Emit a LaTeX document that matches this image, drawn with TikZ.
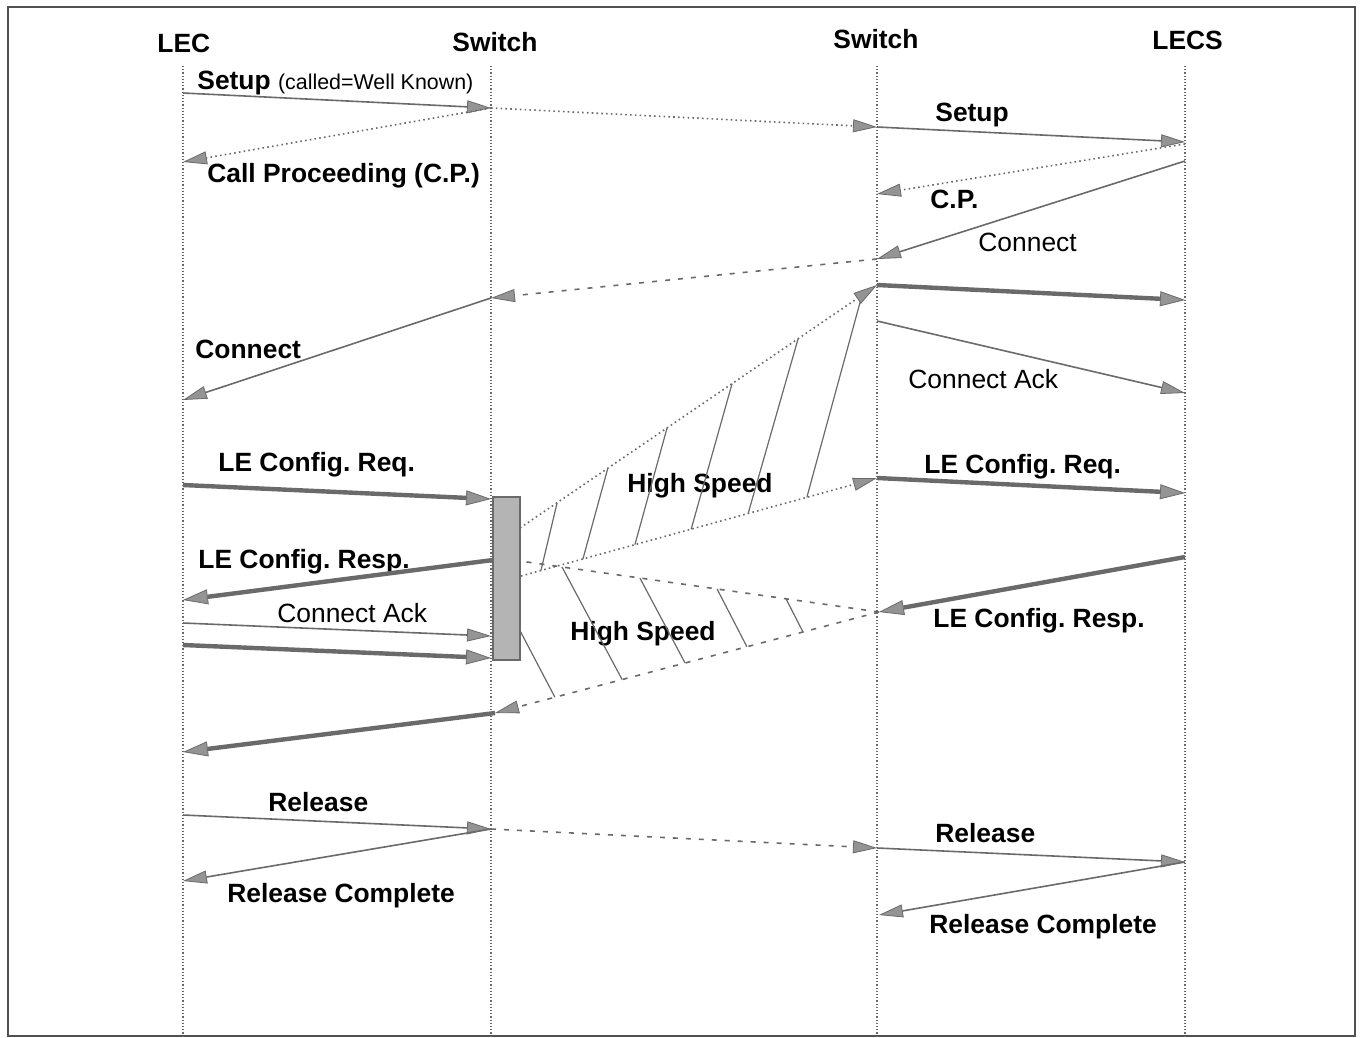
\documentclass[tikz,border=0pt]{standalone}
\usepackage{fontspec}
\setmainfont{Liberation Sans}
\usetikzlibrary{arrows.meta,calc}
\definecolor{WireGray}{HTML}{6A6A6A}
\definecolor{TipGray}{HTML}{949494}
\definecolor{BarGray}{HTML}{B4B4B4}
\definecolor{EdgeGray}{HTML}{505050}
\frenchspacing

\begin{document}
\begin{tikzpicture}[
  x=0.5pt,y=-0.5pt,
  every node/.style={inner sep=0pt,anchor=base west,
    font=\fontsize{13.2}{15}\selectfont\bfseries},
  lbl/.style={font=\fontsize{13.2}{15}\selectfont},
  life/.style={EdgeGray!85,densely dotted,line width=0.6pt},
  sig/.style={WireGray,line width=0.8pt,
    -{Triangle[length=12pt,width=6.5pt,line width=0.4pt,fill=TipGray]}},
  fat/.style={WireGray,line width=2.2pt,
    -{Triangle[length=12.5pt,width=7.5pt,line width=0.4pt,fill=TipGray]}},
  dots/.style={sig,dash pattern=on 0.8pt off 1.6pt},
  dashes/.style={sig,dash pattern=on 2.5pt off 4pt},
  hatch/.style={WireGray,line width=0.6pt},
  bar/.style={anchor=center,draw=EdgeGray!85,fill=BarGray,line width=1.2pt,
    minimum width=13.5pt,minimum height=81.5pt}
]
\useasboundingbox (0,0) rectangle (1361,1038);
\draw[EdgeGray,line width=1.2pt] (8,7) rectangle (1355,1036);

\node (lec) at (157,53) {LEC};
\node (swa) at (452,52) {Switch};
\node (swb) at (833,49) {Switch};
\node (lecs) at (1152,50) {LECS};

\foreach \n/\x in {lec/183,swa/491,swb/877,lecs/1185}{
  \coordinate (\n-t) at (\x,66);
  \coordinate (\n-b) at (\x,1036);
  \draw[life] (\n-t) -- (\n-b);
}

\coordinate (a1) at (183,93);   \coordinate (b1) at (491,108);
\coordinate (c2) at (877,127);  \coordinate (d3) at (1185,142);
\coordinate (d4) at (1185,144); \coordinate (c4) at (877,194);
\coordinate (a5) at (183,162);
\coordinate (d6) at (1185,161); \coordinate (c6) at (877,259);
\coordinate (b7) at (491,298);  \coordinate (a8) at (183,400);
\coordinate (c9) at (877,285);  \coordinate (d9) at (1185,300);
\coordinate (c10) at (877,321); \coordinate (d10) at (1185,393);
\coordinate (a11) at (183,485); \coordinate (b11) at (491,499);
\coordinate (hu1) at (520,528); \coordinate (hl1) at (521,576);
\coordinate (c12) at (877,478); \coordinate (d12) at (1185,493);
\coordinate (d13) at (1185,557); \coordinate (c13) at (879,612);
\coordinate (lt1) at (520,561); \coordinate (b14) at (495,713);
\coordinate (b15) at (493,560); \coordinate (a15) at (183,600);
\coordinate (a16) at (183,623); \coordinate (b16) at (491,636);
\coordinate (a17) at (183,645); \coordinate (b17) at (491,658);
\coordinate (a18) at (183,752);
\coordinate (a19) at (183,815); \coordinate (b19) at (491,829);
\coordinate (c19) at (877,848); \coordinate (d20) at (1185,862);
\coordinate (a21) at (183,881); \coordinate (c22) at (879,915);
\coordinate (hs0) at (505,602);

\node (setupA) at (197,90) {Setup {\mdseries\fontsize{10.7}{13}\selectfont(called=Well Known)}};
\node (cpA) at (207,183) {Call Proceeding (C.P.)};
\node (setupB) at (935,122) {Setup};
\node (cpB) at (930,208) {C.P.};
\node[lbl] (connB) at (978,251) {Connect};
\node (connA) at (195,358) {Connect};
\node[lbl] (ackB) at (908,388) {Connect Ack};
\node (reqA) at (218,471) {LE Config. Req.};
\node (fastA) at (627,492) {High Speed};
\node (respA) at (198,568) {LE Config. Resp.};
\node[lbl] (ackA) at (277,622) {Connect Ack};
\node (fastB) at (570,640) {High Speed};
\node (reqB) at (924,473) {LE Config. Req.};
\node (respB) at (933,627) {LE Config. Resp.};
\node (relA) at (268,811) {Release};
\node (doneA) at (227,902) {Release Complete};
\node (relB) at (935,842) {Release};
\node (doneB) at (929,933) {Release Complete};

\foreach \p/\q in {0.056/0.104,0.174/0.246,0.32/0.412,0.478/0.594,0.638/0.779,0.803/0.958}
  \draw[hatch] ($(hl1)!\p!(c12)$) -- ($(hu1)!\q!(c9)$);
\foreach \p/\q in {0.331/0.117,0.495/0.334,0.656/0.549,0.802/0.741}
  \draw[hatch] ($(b14)!\p!(c13)$) -- ($(lt1)!\q!(c13)$);
\draw[hatch] ($(b14)!0.156!(c13)$) -- (hs0);
\draw[dots] (hu1) -- (c9);
\draw[dots] (hl1) -- (c12);
\draw[dashes,-] (c13) -- (lt1);
\draw[dashes] (c13) -- (b14);

\node[bar] (box) at (506.5,578.5) {};

\draw[sig] (a1) -- (b1);
\draw[dots] (b1) -- (c2);
\draw[sig] (c2) -- (d3);
\draw[dots] (d4) -- (c4);
\draw[dots] (b1) -- (a5);
\draw[sig] (d6) -- (c6);
\draw[dashes] (c6) -- (b7);
\draw[sig] (b7) -- (a8);
\draw[fat] (c9) -- (d9);
\draw[sig] (c10) -- (d10);
\draw[fat] (a11) -- (b11);
\draw[fat] (c12) -- (d12);
\draw[fat] (d13) -- (c13);
\draw[fat] (b15) -- (a15);
\draw[sig] (a16) -- (b16);
\draw[fat] (a17) -- (b17);
\draw[fat] (b14) -- (a18);
\draw[sig] (a19) -- (b19);
\draw[dashes] (b19) -- (c19);
\draw[sig] (c19) -- (d20);
\draw[sig] (b19) -- (a21);
\draw[sig] (d20) -- (c22);
\end{tikzpicture}
\end{document}
